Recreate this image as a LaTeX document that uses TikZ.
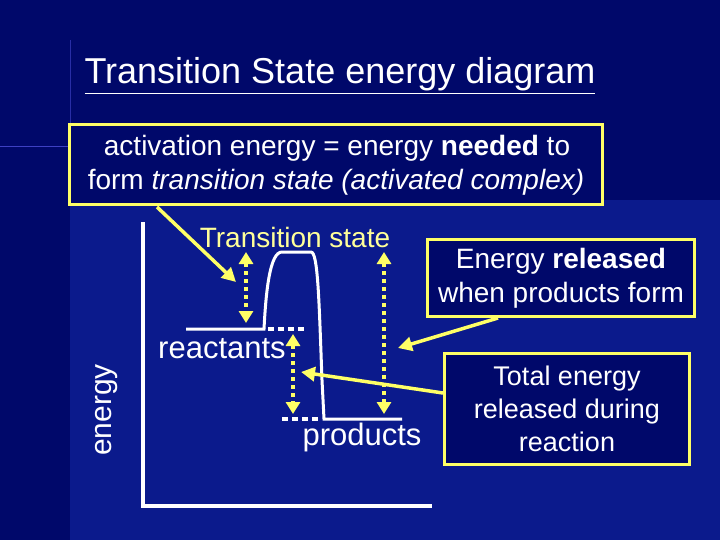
\documentclass[tikz,border=0pt]{standalone}
\usepackage{fontspec}
\setmainfont{Liberation Sans}
\usetikzlibrary{arrows.meta}
\definecolor{bgtop}{HTML}{00086A}
\definecolor{bgbot}{HTML}{0B1A8C}
\definecolor{yel}{HTML}{FFFF66}
\definecolor{lyel}{HTML}{FFFF99}
\begin{document}
\begin{tikzpicture}[x=1pt,y=-1pt,
  ybox/.style={draw=yel,line width=3pt,fill=bgtop,text=white,align=center,inner sep=0pt},
  yarr/.style={draw=yel,line width=3.5pt,-{Triangle[length=14pt,width=14pt]}},
  darr/.style={draw=yel,line width=4pt,dash pattern=on 4pt off 4pt,{Triangle[length=12pt,width=14pt]}-{Triangle[length=12pt,width=14pt]}},
  wdot/.style={draw=white,line width=4pt,dash pattern=on 6pt off 4pt},
  curve/.style={draw=white,line width=3pt},
  lbl/.style={inner sep=0pt,text=white}]
\useasboundingbox (0,0) rectangle (720,540);
\fill[bgtop] (0,0) rectangle (720,540);
\fill[bgbot] (70,200) rectangle (720,540);
\draw[blue!60!white,line width=1pt,opacity=0.6] (0,147) -- (95,147);
\draw[blue!60!white,line width=1pt,opacity=0.4] (70,40) -- (70,125);
% title
\node[lbl,anchor=base] (title) at (340,84) {\fontsize{36}{40}\selectfont\underline{Transition State energy diagram}};
% box 1
\node[ybox,minimum width=533pt,minimum height=80pt] (b1) at (336,165) {};
\node[lbl] (b1a) at (337,148) {\fontsize{28}{30}\selectfont activation energy = energy \textbf{needed} to};
\node[lbl] (b1b) at (336,182) {\fontsize{28}{30}\selectfont form \textit{transition state (activated complex)}};
% axes
\coordinate (ytop) at (143,222);
\coordinate (orig) at (143,506);
\coordinate (xend) at (432,506);
\draw[white,line width=4pt] (ytop) -- (orig) -- (xend);
\node[lbl,rotate=90] (en) at (107,410) {\fontsize{30}{34}\selectfont energy};
% curve
\coordinate (r0) at (186,329);
\coordinate (r1) at (264,329);
\coordinate (t0) at (282,252);
\coordinate (t1) at (311,252);
\coordinate (p0) at (324,419);
\coordinate (p1) at (402,419);
\draw[curve] (r0) -- (r1) .. controls (266,290) and (270,252) .. (t0) -- (t1)
  .. controls (318,252) and (319,300) .. (322,380) -- (p0) -- (p1);
\coordinate (d1a) at (268,329); \coordinate (d1b) at (306,329);
\coordinate (d2a) at (282,419); \coordinate (d2b) at (320,419);
\draw[wdot] (d1a) -- (d1b);
\draw[wdot] (d2a) -- (d2b);
% dotted arrows
\coordinate (a1t) at (246,252); \coordinate (a1b) at (246,323);
\coordinate (a2t) at (293,334); \coordinate (a2b) at (293,414);
\coordinate (a3t) at (384,252); \coordinate (a3b) at (384,414);
\draw[darr] (a1t) -- (a1b);
\draw[darr] (a2t) -- (a2b);
\draw[darr] (a3t) -- (a3b);
% labels
\node[lbl,text=lyel] (ts) at (295,237) {\fontsize{28}{30}\selectfont Transition state};
\node[lbl] (re) at (222,349) {\fontsize{31}{34}\selectfont reactants};
\node[lbl] (pr) at (362,437) {\fontsize{31}{34}\selectfont products};
% box 2
\node[ybox,minimum width=267pt,minimum height=77pt,font=\fontsize{28}{34}\selectfont] (b2) at (561,278) {Energy \textbf{released}\\ when products form};
% box 3
\node[ybox,minimum width=245pt,minimum height=111pt,font=\fontsize{27}{33}\selectfont] (b3) at (567,409) {Total energy\\ released during\\ reaction};
% yellow arrows
\coordinate (e1) at (236,282);
\coordinate (e2) at (398,348);
\coordinate (e3) at (301,372);
\draw[yarr] (157,207) -- (e1);
\draw[yarr] (b2.south west) ++(72,0) -- (e2);
\draw[yarr] (b3.west) ++(0,-16) -- (e3);
\end{tikzpicture}
\end{document}
